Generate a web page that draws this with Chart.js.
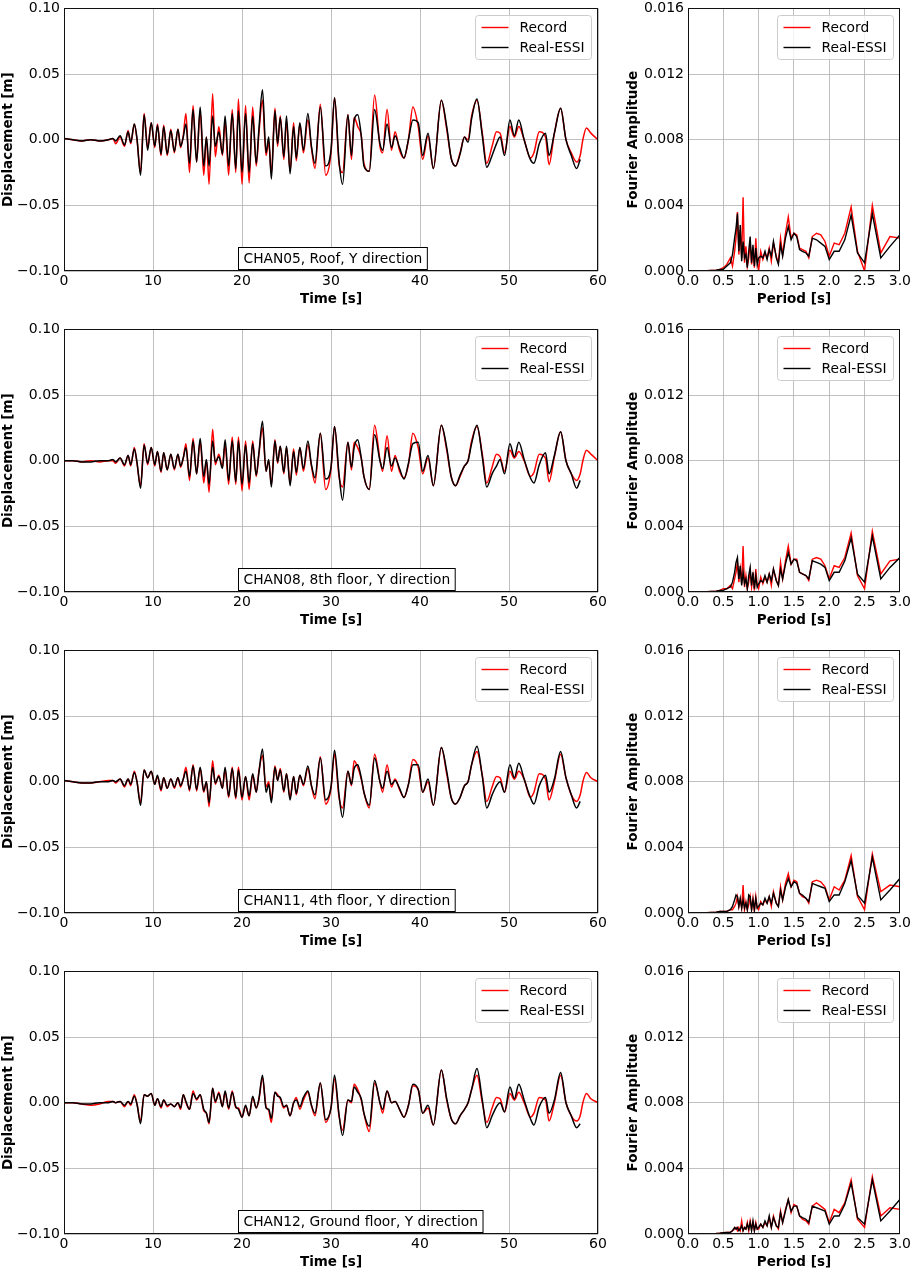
<!DOCTYPE html>
<html lang="en">
<head>
<meta charset="UTF-8">
<title>Recorded vs Real-ESSI displacement, Y direction</title>
<script src="https://cdn.jsdelivr.net/npm/chart.js"></script>
<style>
  body { margin: 0; background: #fff; }
  #page { position: relative; width: 913px; height: 1269px; overflow: hidden; }
  #page canvas { position: absolute; }
</style>
</head>
<body>
<div id="page"></div>
<script>
// ---- time histories (s, m) ----
const timeS = [
  0, 1, 2, 3, 4, 5, 5.5, 5.8, 6.3, 6.8,
  7.2, 7.5, 7.9, 8.2, 8.6, 9.0, 9.4, 9.8, 10.2, 10.5,
  10.9, 11.2, 11.6, 12.0, 12.4, 12.8, 13.1, 13.4, 13.7, 14.1,
  14.5, 14.9, 15.3, 15.7, 16.0, 16.3, 16.7, 17.0, 17.4, 17.8,
  18.1, 18.5, 18.9, 19.3, 19.6, 20.0, 20.4, 20.8, 21.2, 21.6,
  21.9, 22.3, 22.7, 23.0, 23.3, 23.7, 24.0, 24.3, 24.7, 25.0,
  25.4, 25.8, 26.1, 26.5, 26.9, 27.4, 27.8, 28.2, 28.8, 29.4,
  30.0, 30.4, 30.9, 31.3, 31.9, 32.3, 32.6, 33.0, 33.4, 33.7,
  34.3, 34.9, 35.5, 35.8, 36.3, 36.8, 37.2, 37.7, 38.2, 38.7,
  39.2, 39.8, 40.3, 40.9, 41.5, 42.4, 43.0, 43.5, 44.0, 44.5,
  45.0, 45.4, 45.8, 46.4, 47.0, 47.5, 48.1, 48.6, 49.0, 49.5,
  50.1, 50.6, 51.1, 51.7, 52.4, 52.8, 53.4, 54.1, 54.5, 55.1,
  55.8, 56.4, 57.0, 57.6, 58.0, 58.3, 58.7, 59.2, 60
];

// CHAN05, roof
const rec05 = [
  0.001, 0.000, -0.001, 0.000, -0.001, 0.000, 0.001, -0.003, 0.002, -0.005,
  0.007, -0.003, 0.012, 0.000, -0.025, 0.020, -0.006, 0.013, -0.006, 0.012,
  -0.012, 0.011, -0.012, 0.008, -0.010, 0.008, -0.006, 0.003, 0.020, -0.025,
  0.026, -0.017, 0.022, -0.027, 0.002, -0.034, 0.035, -0.013, 0.010, -0.012,
  0.014, -0.027, 0.023, -0.025, 0.031, -0.034, 0.026, -0.033, 0.025, -0.020,
  0.005, 0.030, -0.012, -0.002, -0.026, 0.024, -0.005, 0.018, -0.015, 0.014,
  -0.024, 0.013, -0.016, 0.012, -0.010, 0.015, -0.006, -0.022, 0.027, -0.027,
  -0.010, 0.032, -0.018, -0.025, 0.019, -0.015, 0.017, 0.010, 0.003, -0.018,
  -0.024, 0.034, -0.005, -0.010, 0.023, -0.008, 0.006, -0.008, -0.014, 0.000,
  0.025, 0.010, -0.015, 0.003, -0.022, 0.030, 0.008, -0.014, -0.020, -0.010,
  0.002, 0.000, 0.018, 0.030, 0.005, -0.018, -0.005, 0.006, 0.005, -0.010,
  0.010, 0.002, 0.010, 0.000, -0.014, -0.010, 0.006, 0.002, -0.019, 0.005,
  0.024, 0.000, -0.010, -0.017, -0.012, 0.000, 0.009, 0.005, 0.000
];
const essi05 = [
  0.001, 0.000, -0.001, 0.000, -0.001, 0.000, 0.001, -0.001, 0.003, -0.004,
  0.006, -0.002, 0.012, 0.001, -0.027, 0.019, -0.008, 0.013, -0.005, 0.011,
  -0.011, 0.010, -0.011, 0.007, -0.009, 0.008, -0.005, 0.002, 0.012, -0.018,
  0.023, -0.017, 0.025, -0.020, 0.002, -0.020, 0.018, -0.005, 0.006, -0.011,
  0.018, -0.020, 0.020, -0.022, 0.022, -0.025, 0.020, -0.025, 0.018, -0.018,
  0.008, 0.038, -0.010, 0.002, -0.030, 0.022, -0.003, 0.017, -0.013, 0.018,
  -0.026, 0.010, -0.014, 0.013, -0.008, 0.020, -0.005, -0.018, 0.025, -0.020,
  -0.008, 0.032, -0.016, -0.034, 0.019, -0.012, 0.015, 0.019, 0.003, -0.020,
  -0.024, 0.023, -0.003, -0.008, 0.012, -0.006, 0.003, -0.006, -0.014, 0.000,
  0.015, 0.013, -0.012, 0.005, -0.022, 0.030, 0.010, -0.014, -0.020, -0.011,
  0.002, -0.002, 0.016, 0.031, 0.003, -0.021, -0.012, -0.003, 0.002, -0.012,
  0.015, 0.003, 0.015, 0.000, -0.015, -0.018, -0.003, 0.005, -0.012, 0.005,
  0.024, 0.000, -0.012, -0.022, -0.015, null, null, null, null
];

// CHAN08, 8th floor
const rec08 = [
  0.000, 0.000, -0.001, 0.000, -0.001, 0.000, 0.000, -0.002, 0.002, -0.004,
  0.004, -0.004, 0.010, -0.002, -0.019, 0.013, -0.003, 0.010, -0.004, 0.007,
  -0.009, 0.006, -0.007, 0.005, -0.007, 0.005, -0.005, 0.002, 0.013, -0.015,
  0.017, -0.010, 0.015, -0.017, 0.000, -0.024, 0.024, -0.003, 0.005, -0.005,
  0.012, -0.018, 0.018, -0.018, 0.018, -0.023, 0.015, -0.022, 0.015, -0.012,
  0.005, 0.025, -0.008, 0.000, -0.018, 0.016, -0.002, 0.011, -0.010, 0.010,
  -0.017, 0.009, -0.011, 0.010, -0.008, 0.012, -0.004, -0.017, 0.021, -0.022,
  -0.006, 0.026, -0.012, -0.020, 0.014, -0.007, 0.014, 0.010, 0.002, -0.012,
  -0.022, 0.027, 0.001, -0.008, 0.019, -0.008, 0.004, -0.008, -0.013, -0.003,
  0.021, 0.010, -0.010, 0.002, -0.019, 0.027, 0.008, -0.012, -0.019, -0.012,
  -0.004, 0.000, 0.015, 0.026, 0.005, -0.017, -0.005, 0.005, 0.003, -0.008,
  0.008, 0.002, 0.007, 0.000, -0.012, -0.009, 0.005, 0.002, -0.016, 0.003,
  0.022, 0.000, -0.010, -0.015, -0.010, 0.000, 0.008, 0.005, 0.000
];
const essi08 = [
  0.000, 0.000, -0.001, -0.001, 0.000, 0.000, 0.001, -0.001, 0.002, -0.003,
  0.004, -0.003, 0.009, -0.001, -0.021, 0.012, -0.002, 0.010, -0.003, 0.007,
  -0.008, 0.006, -0.007, 0.005, -0.006, 0.005, -0.004, 0.002, 0.010, -0.012,
  0.015, -0.010, 0.017, -0.012, 0.001, -0.018, 0.015, -0.001, 0.003, -0.006,
  0.016, -0.015, 0.015, -0.016, 0.015, -0.018, 0.012, -0.017, 0.013, -0.011,
  0.006, 0.030, -0.008, 0.001, -0.020, 0.015, -0.001, 0.011, -0.009, 0.011,
  -0.019, 0.007, -0.009, 0.010, -0.006, 0.015, -0.003, -0.013, 0.021, -0.014,
  -0.005, 0.026, -0.010, -0.030, 0.014, -0.005, 0.010, 0.016, 0.002, -0.012,
  -0.022, 0.020, 0.000, -0.006, 0.010, -0.004, 0.002, -0.006, -0.014, -0.002,
  0.013, 0.014, -0.008, 0.004, -0.019, 0.027, 0.010, -0.012, -0.019, -0.011,
  -0.004, 0.000, 0.013, 0.027, 0.003, -0.020, -0.010, -0.004, 0.001, -0.010,
  0.013, 0.003, 0.014, 0.001, -0.013, -0.017, -0.003, 0.006, -0.010, 0.004,
  0.022, 0.000, -0.010, -0.021, -0.015, null, null, null, null
];

// CHAN11, 4th floor
const rec11 = [
  0.001, 0.000, -0.001, -0.001, 0.000, 0.001, 0.001, -0.001, 0.002, -0.004,
  0.002, -0.003, 0.008, 0.000, -0.016, 0.009, 0.003, 0.008, -0.002, 0.004,
  -0.007, 0.003, -0.005, 0.002, -0.005, 0.003, -0.004, 0.002, 0.011, -0.007,
  0.013, -0.007, 0.010, -0.008, 0.000, -0.019, 0.016, -0.002, 0.005, -0.005,
  0.009, -0.012, 0.011, -0.013, 0.011, -0.014, 0.004, -0.014, 0.005, -0.008,
  0.008, 0.020, -0.004, 0.000, -0.014, 0.012, 0.001, 0.010, -0.008, 0.006,
  -0.012, 0.004, -0.010, 0.005, -0.003, 0.010, -0.003, -0.013, 0.019, -0.017,
  -0.005, 0.021, -0.012, -0.020, 0.008, -0.003, 0.016, 0.011, 0.002, -0.008,
  -0.020, 0.021, 0.000, -0.008, 0.013, -0.004, 0.002, -0.006, -0.012, -0.002,
  0.017, 0.011, -0.008, 0.000, -0.018, 0.026, 0.006, -0.012, -0.017, -0.012,
  -0.003, 0.000, 0.013, 0.023, 0.005, -0.015, -0.004, 0.004, 0.003, -0.008,
  0.008, 0.002, 0.008, 0.002, -0.012, -0.008, 0.006, 0.002, -0.014, 0.000,
  0.021, 0.003, -0.010, -0.015, -0.010, 0.000, 0.007, 0.003, 0.000
];
const essi11 = [
  0.001, 0.000, -0.001, -0.001, 0.000, 0.000, 0.001, 0.000, 0.002, -0.003,
  0.002, -0.002, 0.007, 0.000, -0.018, 0.009, 0.003, 0.008, -0.002, 0.005,
  -0.006, 0.003, -0.005, 0.002, -0.004, 0.003, -0.003, 0.002, 0.008, -0.006,
  0.012, -0.006, 0.011, -0.007, 0.000, -0.016, 0.011, -0.001, 0.004, -0.005,
  0.011, -0.011, 0.010, -0.012, 0.009, -0.012, 0.004, -0.011, 0.006, -0.008,
  0.007, 0.025, -0.008, -0.002, -0.016, 0.011, 0.001, 0.009, -0.007, 0.006,
  -0.014, 0.004, -0.009, 0.005, -0.002, 0.012, -0.003, -0.010, 0.018, -0.014,
  -0.004, 0.024, -0.010, -0.027, 0.008, -0.002, 0.010, 0.013, 0.003, -0.008,
  -0.018, 0.018, 0.000, -0.005, 0.008, -0.002, 0.001, -0.005, -0.012, -0.002,
  0.013, 0.013, -0.008, 0.002, -0.018, 0.026, 0.008, -0.012, -0.017, -0.012,
  -0.003, 0.000, 0.013, 0.027, 0.004, -0.020, -0.010, -0.003, 0.000, -0.008,
  0.013, 0.003, 0.014, 0.002, -0.012, -0.017, -0.003, 0.005, -0.008, 0.002,
  0.023, 0.003, -0.010, -0.020, -0.015, null, null, null, null
];

// CHAN12, ground floor
const rec12 = [
  0.000, 0.000, -0.001, -0.002, -0.001, 0.001, 0.001, 0.000, 0.001, -0.003,
  0.001, -0.002, 0.006, -0.001, -0.014, 0.006, 0.005, 0.007, -0.002, 0.003,
  -0.004, 0.002, -0.003, -0.001, -0.003, 0.000, -0.005, 0.006, 0.000, -0.005,
  0.009, 0.002, 0.006, -0.006, -0.008, -0.016, 0.011, 0.000, 0.008, -0.003,
  0.008, -0.005, 0.009, -0.004, -0.004, -0.011, -0.003, -0.010, 0.004, -0.004,
  0.002, 0.019, -0.003, -0.006, -0.015, 0.008, 0.006, 0.003, -0.004, -0.002,
  -0.010, 0.000, 0.004, -0.005, 0.002, 0.008, -0.002, -0.010, 0.015, -0.015,
  -0.004, 0.018, -0.010, -0.021, 0.002, 0.000, 0.014, 0.010, 0.002, -0.008,
  -0.022, 0.015, 0.000, -0.008, 0.009, 0.000, 0.001, -0.005, -0.011, -0.002,
  0.013, 0.010, -0.008, -0.004, -0.017, 0.025, 0.002, -0.012, -0.016, -0.010,
  -0.005, 0.000, 0.010, 0.021, 0.000, -0.015, -0.004, 0.004, 0.003, -0.007,
  0.007, 0.002, 0.008, 0.000, -0.011, -0.008, 0.004, 0.002, -0.014, 0.000,
  0.021, 0.000, -0.010, -0.014, -0.010, 0.000, 0.007, 0.003, 0.000
];
const essi12 = [
  0.000, 0.000, -0.001, -0.001, 0.000, 0.000, 0.001, 0.000, 0.001, -0.002,
  0.001, -0.001, 0.005, -0.001, -0.016, 0.006, 0.005, 0.007, -0.002, 0.003,
  -0.003, 0.002, -0.002, -0.001, -0.003, 0.000, -0.004, 0.006, 0.001, -0.005,
  0.007, 0.003, 0.006, -0.005, -0.008, -0.015, 0.011, 0.001, 0.007, -0.003,
  0.009, -0.004, 0.008, -0.003, -0.005, -0.011, -0.002, -0.010, 0.005, -0.004,
  0.003, 0.021, -0.004, -0.005, -0.012, 0.008, 0.005, 0.004, -0.003, -0.002,
  -0.010, 0.000, 0.002, -0.003, 0.004, 0.009, -0.002, -0.008, 0.015, -0.013,
  -0.004, 0.021, -0.009, -0.025, 0.002, 0.001, 0.012, 0.008, 0.003, -0.008,
  -0.018, 0.017, 0.000, -0.005, 0.009, 0.000, 0.001, -0.005, -0.011, -0.002,
  0.014, 0.010, -0.008, -0.002, -0.017, 0.025, 0.003, -0.012, -0.016, -0.010,
  -0.005, 0.000, 0.010, 0.026, 0.002, -0.019, -0.010, -0.003, 0.000, -0.007,
  0.012, 0.003, 0.014, 0.002, -0.012, -0.017, -0.003, 0.004, -0.008, 0.002,
  0.023, 0.000, -0.010, -0.019, -0.016, null, null, null, null
];

// ---- Fourier amplitude spectra vs period (s) ----
const periodS = [
  0.0, 0.2, 0.4, 0.45, 0.5, 0.55, 0.6, 0.63, 0.66, 0.68,
  0.70, 0.72, 0.74, 0.76, 0.78, 0.80, 0.82, 0.84, 0.86, 0.88,
  0.90, 0.92, 0.94, 0.96, 0.98, 1.00, 1.03, 1.06, 1.09, 1.12,
  1.15, 1.18, 1.21, 1.25, 1.28, 1.31, 1.34, 1.38, 1.42, 1.46,
  1.50, 1.54, 1.58, 1.62, 1.67, 1.71, 1.76, 1.82, 1.88, 1.94,
  2.00, 2.07, 2.14, 2.22, 2.31, 2.40, 2.50, 2.61, 2.73, 2.86,
  3.00
];
const fRec05 = [
  0, 0, 0.00005, 0.0001, 0.0002, 0.0004, 0.0008, 0.0003, 0.0012, 0.0020,
  0.0036, 0.0010, 0.0025, 0.0008, 0.0045, 0.0005, 0.0015, 0.0003, 0.0008, 0.0018,
  0.0004, 0.0012, 0.0002, 0.0020, 0.0006, 0.0000, 0.0012, 0.0007, 0.0011, 0.0008,
  0.0014, 0.0006, 0.0017, 0.0009, 0.0005, 0.0020, 0.0010, 0.0023, 0.0033, 0.0020,
  0.0023, 0.0022, 0.0014, 0.0013, 0.0012, 0.0008, 0.0021, 0.0023, 0.0022, 0.0018,
  0.0009, 0.0017, 0.0016, 0.0023, 0.0039, 0.0012, 0.0000, 0.0040, 0.0011, 0.0021,
  0.0020
];
const fEssi05 = [
  0, 0, 0.00005, 0.0001, 0.0001, 0.0003, 0.0005, 0.0010, 0.0020, 0.0026,
  0.0035, 0.0012, 0.0028, 0.0006, 0.0018, 0.0008, 0.0010, 0.0002, 0.0012, 0.0021,
  0.0005, 0.0016, 0.0003, 0.0014, 0.0004, 0.0008, 0.0009, 0.0008, 0.0012, 0.0007,
  0.0013, 0.0009, 0.0018, 0.0008, 0.0004, 0.0016, 0.0009, 0.0020, 0.0027, 0.0019,
  0.0023, 0.0021, 0.0013, 0.0012, 0.0011, 0.0009, 0.0020, 0.0019, 0.0017, 0.0015,
  0.0007, 0.0012, 0.0012, 0.0019, 0.0034, 0.0011, 0.0005, 0.0035, 0.0008, 0.0015,
  0.0022
];
const fRec08 = [
  0, 0, 0.00005, 0.0001, 0.0002, 0.0002, 0.0004, 0.0002, 0.0008, 0.0012,
  0.0018, 0.0006, 0.0014, 0.0005, 0.0028, 0.0003, 0.0010, 0.0002, 0.0006, 0.0013,
  0.0003, 0.0010, 0.0001, 0.0014, 0.0004, 0.0002, 0.0009, 0.0005, 0.0009, 0.0006,
  0.0011, 0.0004, 0.0014, 0.0007, 0.0004, 0.0018, 0.0008, 0.0019, 0.0028, 0.0017,
  0.0020, 0.0020, 0.0012, 0.0011, 0.0010, 0.0007, 0.0020, 0.0021, 0.0020, 0.0016,
  0.0008, 0.0016, 0.0015, 0.0021, 0.0036, 0.0010, 0.0002, 0.0037, 0.0011, 0.0019,
  0.0020
];
const fEssi08 = [
  0, 0, 0.00005, 0.0001, 0.0001, 0.0002, 0.0003, 0.0006, 0.0012, 0.0018,
  0.0021, 0.0008, 0.0016, 0.0004, 0.0012, 0.0005, 0.0008, 0.0002, 0.0010, 0.0015,
  0.0004, 0.0012, 0.0002, 0.0010, 0.0003, 0.0005, 0.0007, 0.0006, 0.0010, 0.0006,
  0.0011, 0.0007, 0.0014, 0.0007, 0.0004, 0.0014, 0.0008, 0.0017, 0.0024, 0.0017,
  0.0020, 0.0019, 0.0012, 0.0011, 0.0010, 0.0008, 0.0019, 0.0018, 0.0017, 0.0015,
  0.0007, 0.0012, 0.0012, 0.0019, 0.0033, 0.0011, 0.0006, 0.0034, 0.0008, 0.0015,
  0.0021
];
const fRec11 = [
  0, 0, 0.00005, 0.0001, 0.0001, 0.0001, 0.0002, 0.0002, 0.0004, 0.0006,
  0.0010, 0.0004, 0.0008, 0.0003, 0.0017, 0.0002, 0.0007, 0.0002, 0.0005, 0.0010,
  0.0002, 0.0009, 0.0001, 0.0010, 0.0003, 0.0002, 0.0007, 0.0005, 0.0008, 0.0006,
  0.0010, 0.0004, 0.0013, 0.0006, 0.0004, 0.0016, 0.0008, 0.0018, 0.0024, 0.0016,
  0.0020, 0.0019, 0.0012, 0.0010, 0.0009, 0.0006, 0.0019, 0.0020, 0.0019, 0.0016,
  0.0008, 0.0016, 0.0014, 0.0020, 0.0035, 0.0010, 0.0002, 0.0036, 0.0013, 0.0017,
  0.0016
];
const fEssi11 = [
  0, 0, 0.00005, 0.0001, 0.0001, 0.0001, 0.0002, 0.0004, 0.0008, 0.0011,
  0.0010, 0.0004, 0.0009, 0.0003, 0.0008, 0.0003, 0.0006, 0.0002, 0.0011, 0.0010,
  0.0002, 0.0008, 0.0002, 0.0009, 0.0003, 0.0004, 0.0006, 0.0005, 0.0009, 0.0006,
  0.0010, 0.0006, 0.0012, 0.0006, 0.0004, 0.0014, 0.0008, 0.0016, 0.0021, 0.0016,
  0.0019, 0.0018, 0.0012, 0.0011, 0.0009, 0.0007, 0.0018, 0.0017, 0.0016, 0.0015,
  0.0007, 0.0011, 0.0011, 0.0019, 0.0032, 0.0011, 0.0006, 0.0034, 0.0008, 0.0014,
  0.0021
];
const fRec12 = [
  0, 0, 0.00003, 0.00005, 0.00008, 0.0001, 0.0001, 0.0002, 0.0003, 0.0004,
  0.0002, 0.0004, 0.0002, 0.0008, 0.0002, 0.0004, 0.0003, 0.0007, 0.0002, 0.0008,
  0.0003, 0.0007, 0.0002, 0.0007, 0.0003, 0.0003, 0.0006, 0.0004, 0.0007, 0.0005,
  0.0010, 0.0004, 0.0011, 0.0005, 0.0003, 0.0014, 0.0007, 0.0015, 0.0021, 0.0013,
  0.0018, 0.0017, 0.0011, 0.0009, 0.0008, 0.0006, 0.0017, 0.0019, 0.0017, 0.0015,
  0.0007, 0.0015, 0.0013, 0.0019, 0.0033, 0.0009, 0.0004, 0.0035, 0.0011, 0.0016,
  0.0015
];
const fEssi12 = [
  0, 0, 0.00003, 0.00005, 0.00008, 0.0001, 0.0001, 0.0002, 0.0004, 0.0003,
  0.0004, 0.0002, 0.0003, 0.0005, 0.0002, 0.0004, 0.0003, 0.0006, 0.0003, 0.0007,
  0.0002, 0.0008, 0.0002, 0.0006, 0.0003, 0.0004, 0.0006, 0.0004, 0.0008, 0.0005,
  0.0011, 0.0004, 0.0010, 0.0005, 0.0004, 0.0013, 0.0007, 0.0014, 0.0021, 0.0014,
  0.0017, 0.0017, 0.0011, 0.0010, 0.0009, 0.0007, 0.0017, 0.0016, 0.0015, 0.0014,
  0.0006, 0.0011, 0.0011, 0.0018, 0.0031, 0.0010, 0.0006, 0.0033, 0.0008, 0.0014,
  0.0021
];

// ---- tick labels ----
const timeTicks = [0, 10, 20, 30, 40, 50, 60];
const dispTicks = [-0.10, -0.05, 0.00, 0.05, 0.10];
const periodTicks = [0.0, 0.5, 1.0, 1.5, 2.0, 2.5, 3.0];
const ampTicks = [0.000, 0.004, 0.008, 0.012, 0.016];

const notes = [
  'CHAN05, Roof, Y direction',
  'CHAN08, 8th floor, Y direction',
  'CHAN11, 4th floor, Y direction',
  'CHAN12, Ground floor, Y direction'
];
const recSeries = [rec05, rec08, rec11, rec12];
const essiSeries = [essi05, essi08, essi11, essi12];
const fRecSeries = [fRec05, fRec08, fRec11, fRec12];
const fEssiSeries = [fEssi05, fEssi08, fEssi11, fEssi12];

// layout
const rowTops = [6, 327, 648, 969];
const FONT = "'DejaVu Sans', sans-serif";

Chart.defaults.font.family = FONT;
Chart.defaults.font.size = 13.5;
Chart.defaults.color = '#000';

function pairs(xs, ys) {
  return xs.map((x, i) => ({ x: x, y: ys[i] }));
}

// frame, legend box and channel note, matplotlib style
const boxes = {
  id: 'boxes',
  afterDraw(chart, args, opts) {
    const ctx = chart.ctx;
    const a = chart.chartArea;
    ctx.save();
    ctx.strokeStyle = '#111';
    ctx.lineWidth = 1;
    ctx.strokeRect(Math.round(a.left) + 0.5, Math.round(a.top) + 0.5,
      Math.round(a.right - a.left) - 1, Math.round(a.bottom - a.top) - 1);

    // legend
    const lw = 116, lh = 44;
    const lx = Math.round(a.right) - 7 - lw + 0.5, ly = Math.round(a.top) + 7 + 0.5;
    ctx.beginPath();
    if (ctx.roundRect) ctx.roundRect(lx, ly, lw, lh, 3); else ctx.rect(lx, ly, lw, lh);
    ctx.fillStyle = 'rgba(255,255,255,0.8)';
    ctx.fill();
    ctx.strokeStyle = '#cccccc';
    ctx.stroke();
    ctx.font = '13.8px ' + FONT;
    ctx.textBaseline = 'middle';
    ctx.textAlign = 'left';
    chart.data.datasets.forEach((ds, i) => {
      const yy = ly + 12 + i * 20;
      ctx.beginPath();
      ctx.moveTo(lx + 6, yy);
      ctx.lineTo(lx + 33, yy);
      ctx.strokeStyle = ds.borderColor;
      ctx.lineWidth = 1.4;
      ctx.stroke();
      ctx.fillStyle = '#000';
      ctx.fillText(ds.label, lx + 44, yy + 1);
    });

    // channel note
    if (opts.note) {
      const tw = ctx.measureText(opts.note).width;
      const bh = 22;
      const bx = Math.round(a.left + (a.right - a.left) * 0.326) + 0.5;
      const by = Math.round(a.bottom) - 2 - bh + 0.5;
      ctx.fillStyle = '#fff';
      ctx.fillRect(bx, by, tw + 10, bh);
      ctx.strokeStyle = '#000';
      ctx.lineWidth = 1;
      ctx.strokeRect(bx, by, tw + 10, bh);
      ctx.fillStyle = '#000';
      ctx.fillText(opts.note, bx + 5, by + bh / 2 + 1);
    }
    ctx.restore();
  }
};

function axis(min, max, ticks, fmt, title, isY, size) {
  return {
    type: 'linear',
    min: min,
    max: max,
    afterBuildTicks: s => { s.ticks = ticks.map(v => ({ value: v })); },
    afterFit: s => { if (isY) s.width = size; else s.height = size; },
    ticks: { autoSkip: false, maxRotation: 0, padding: isY ? 4 : 2, callback: fmt, font: { size: 14 } },
    grid: { color: '#b0b0b0', lineWidth: 0.8, drawTicks: false },
    border: { display: false },
    title: { display: true, text: title, padding: 0, font: { size: 13.5, weight: 'bold' } }
  };
}

function makeCanvas(left, top, w, h) {
  const c = document.createElement('canvas');
  c.width = w;
  c.height = h;
  c.style.left = left + 'px';
  c.style.top = top + 'px';
  c.style.width = w + 'px';
  c.style.height = h + 'px';
  document.getElementById('page').appendChild(c);
  return c;
}

const minus = s => s.replace('-', '\u2212');

rowTops.forEach((top, r) => {
  // displacement time history
  const c1 = makeCanvas(0, top - 10, 613, 312);
  new Chart(c1, {
    type: 'line',
    data: {
      datasets: [
        { label: 'Record', data: pairs(timeS, recSeries[r]), borderColor: '#ff0000', order: 1 },
        { label: 'Real-ESSI', data: pairs(timeS, essiSeries[r]), borderColor: '#000000', order: 0 }
      ]
    },
    options: {
      responsive: false,
      animation: false,
      layout: { padding: { top: 10, right: 15, left: 0, bottom: 0 } },
      elements: {
        point: { radius: 0 },
        line: { borderWidth: 1.5, cubicInterpolationMode: 'monotone', fill: false }
      },
      scales: {
        x: axis(0, 60, timeTicks, v => String(v), 'Time [s]', false, 37),
        y: axis(-0.1, 0.1, dispTicks, v => minus(v.toFixed(2)), 'Displacement [m]', true, 64)
      },
      plugins: { legend: { display: false }, tooltip: { enabled: false }, boxes: { note: notes[r] } }
    },
    plugins: [boxes]
  });

  // Fourier amplitude spectrum
  const c2 = makeCanvas(600, top - 10, 313, 312);
  new Chart(c2, {
    type: 'line',
    data: {
      datasets: [
        { label: 'Record', data: pairs(periodS, fRecSeries[r]), borderColor: '#ff0000', order: 1 },
        { label: 'Real-ESSI', data: pairs(periodS, fEssiSeries[r]), borderColor: '#000000', order: 0 }
      ]
    },
    options: {
      responsive: false,
      animation: false,
      layout: { padding: { top: 10, right: 11, left: 25, bottom: 0 } },
      elements: {
        point: { radius: 0 },
        line: { borderWidth: 1.4, tension: 0, fill: false }
      },
      scales: {
        x: axis(0, 3, periodTicks, v => v.toFixed(1), 'Period [s]', false, 37),
        y: axis(0, 0.016, ampTicks, v => v.toFixed(3), 'Fourier Amplitude', true, 63)
      },
      plugins: { legend: { display: false }, tooltip: { enabled: false }, boxes: { note: null } }
    },
    plugins: [boxes]
  });
});
</script>
</body>
</html>
